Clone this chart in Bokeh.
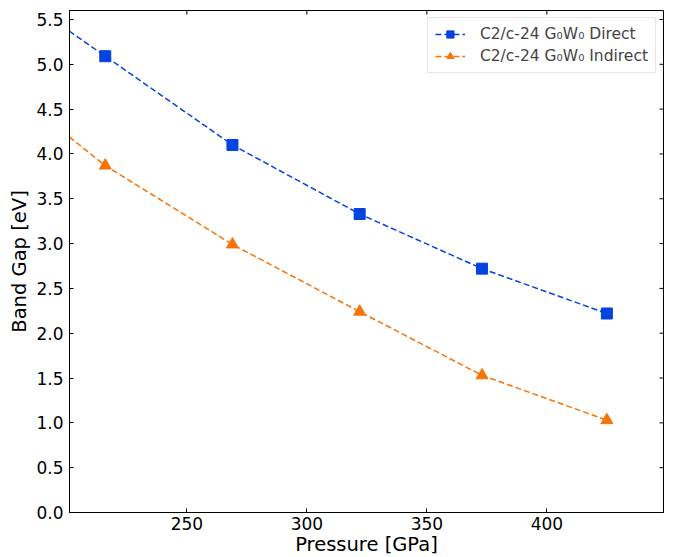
from bokeh.plotting import figure
from bokeh.models import Range1d, FixedTicker, PrintfTickFormatter, Legend, LegendItem
from bokeh.embed import file_html
from bokeh.resources import INLINE

# ---- data ----
pressure = [216, 269, 322, 373, 425]
direct_gap = [5.09, 4.10, 3.33, 2.72, 2.22]
indirect_gap = [3.87, 2.99, 2.24, 1.53, 1.03]
# dashed fit curves (start at the left limit of the axis)
curve_pressure = [201, 216, 269, 322, 373, 425]
curve_direct = [5.37, 5.09, 4.10, 3.33, 2.72, 2.22]
curve_indirect = [4.19, 3.87, 2.99, 2.24, 1.53, 1.03]
x_ticks = [250, 300, 350, 400]
y_ticks = [0.0, 0.5, 1.0, 1.5, 2.0, 2.5, 3.0, 3.5, 4.0, 4.5, 5.0, 5.5]
series_labels = ["C2/c-24 G\u2080W\u2080 Direct", "C2/c-24 G\u2080W\u2080 Indirect"]

X_MIN, X_MAX = 201.1, 448.6
Y_MIN, Y_MAX = 0.0, 5.6

BLUE = "#0343df"
ORANGE = "#f97306"
FONT = "DejaVu Sans"

FW, FH = 594, 502
p = figure(frame_width=FW, frame_height=FH,
           x_range=Range1d(X_MIN, X_MAX), y_range=Range1d(Y_MIN, Y_MAX),
           output_backend="svg", toolbar_location=None,
           min_border_left=69, min_border_top=10, min_border_right=3, min_border_bottom=10)
p.background_fill_color = "white"
p.border_fill_color = "white"
p.outline_line_color = "black"
p.outline_line_width = 1
p.xgrid.visible = False
p.ygrid.visible = False

l1 = p.line(curve_pressure, curve_direct, line_color=BLUE, line_width=1.5, line_dash="6 3")
s1 = p.scatter(pressure, direct_gap, marker="square", size=11, fill_color=BLUE, line_color=BLUE)
l2 = p.line(curve_pressure, curve_indirect, line_color=ORANGE, line_width=1.5, line_dash="6 3")
s2 = p.scatter(pressure, indirect_gap, marker="triangle", size=12, fill_color=ORANGE, line_color=ORANGE)

# inward ticks on the top and right edges (mirror of the bottom/left ticks)
tick_px = 4
dy = tick_px * (Y_MAX - Y_MIN) / FH
dx = tick_px * (X_MAX - X_MIN) / FW
p.segment(x0=x_ticks, x1=x_ticks, y0=[Y_MAX] * len(x_ticks), y1=[Y_MAX - dy] * len(x_ticks),
          line_color="black", line_width=1)
p.segment(x0=[X_MAX] * len(y_ticks), x1=[X_MAX - dx] * len(y_ticks), y0=y_ticks, y1=y_ticks,
          line_color="black", line_width=1)

legend = Legend(items=[LegendItem(label=series_labels[0], renderers=[l1, s1]),
                       LegendItem(label=series_labels[1], renderers=[l2, s2])],
                location="top_right")
legend.label_text_font = FONT
legend.label_text_font_size = "15.5px"
legend.glyph_width = 30
legend.glyph_height = 18
legend.label_standoff = 15
legend.padding = 7
legend.spacing = 4
legend.margin = 7
legend.border_line_color = "#cccccc"
legend.border_line_width = 1
legend.background_fill_alpha = 0.8
p.add_layout(legend)

xa = p.xaxis[0]
ya = p.yaxis[0]
xa.ticker = FixedTicker(ticks=x_ticks)
xa.formatter = PrintfTickFormatter(format="%d")
xa.axis_label = "Pressure [GPa]"
ya.ticker = FixedTicker(ticks=y_ticks)
ya.formatter = PrintfTickFormatter(format="%.1f")
ya.axis_label = "Band Gap [eV]"

for ax in (xa, ya):
    ax.major_tick_in = tick_px
    ax.major_tick_out = 0
    ax.minor_tick_in = 0
    ax.minor_tick_out = 0
    ax.axis_line_color = "black"
    ax.axis_line_width = 1
    ax.major_tick_line_color = "black"
    ax.major_tick_line_width = 1
    ax.major_label_text_font = FONT
    ax.major_label_text_color = "black"
    ax.major_label_text_font_size = "17px"
    ax.axis_label_text_font = FONT
    ax.axis_label_text_font_style = "normal"
    ax.axis_label_text_color = "black"
    ax.axis_label_text_font_size = "19.5px"

xa.major_label_standoff = 4
xa.axis_label_standoff = 0
ya.major_label_standoff = 6
ya.axis_label_standoff = 2

open("out.html", "w").write(file_html(p, INLINE))
